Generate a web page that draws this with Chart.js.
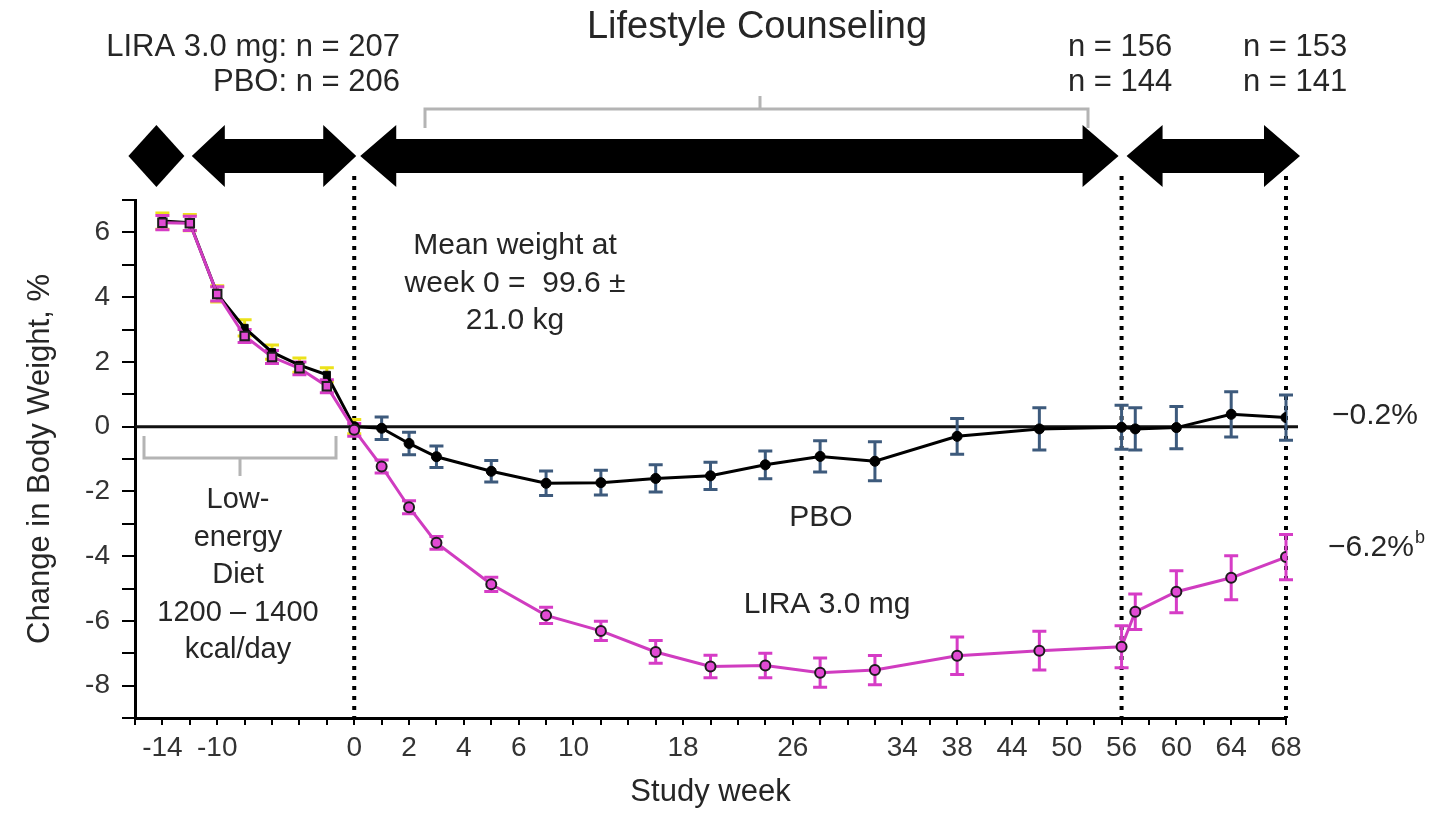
<!DOCTYPE html>
<html>
<head>
<meta charset="utf-8">
<title>Change in Body Weight</title>
<script src="https://cdn.jsdelivr.net/npm/chart.js@4.4.1/dist/chart.umd.min.js"></script>
<style>
  html, body { margin: 0; padding: 0; background: #fff; }
  #wrap { width: 1448px; height: 813px; }
</style>
</head>
<body>
<div id="wrap"><canvas id="weightChart" width="1448" height="813"></canvas></div>
<script>
// --- DATA ---
const WEEKS = [-14, -12, -10, -8, -6, -4, -2, 0, 1, 2, 3, 5, 8, 12, 16, 20, 24, 28, 32, 38, 47, 56, 57, 60, 64, 68];
const LIRA_CHANGE = [6.3, 6.28, 4.1, 2.8, 2.15, 1.8, 1.25, -0.1, -1.23, -2.49, -3.59, -4.87, -5.83, -6.31, -6.96, -7.41, -7.38, -7.6, -7.52, -7.08, -6.92, -6.8, -5.72, -5.1, -4.67, -4.03];
const LIRA_SE = [0.22, 0.22, 0.22, 0.2, 0.2, 0.2, 0.2, 0.2, 0.2, 0.2, 0.2, 0.22, 0.25, 0.3, 0.35, 0.35, 0.38, 0.45, 0.45, 0.58, 0.6, 0.65, 0.55, 0.65, 0.68, 0.7];
const PBO_CHANGE = [6.35, 6.3, 4.1, 3.05, 2.3, 1.9, 1.6, 0.0, -0.05, -0.52, -0.93, -1.38, -1.75, -1.73, -1.6, -1.52, -1.18, -0.92, -1.07, -0.3, -0.07, -0.02, -0.07, -0.03, 0.38, 0.28];
const PBO_SE = [0.25, 0.25, 0.25, 0.25, 0.22, 0.22, 0.22, 0.22, 0.35, 0.35, 0.33, 0.33, 0.38, 0.38, 0.42, 0.42, 0.43, 0.48, 0.6, 0.55, 0.65, 0.68, 0.65, 0.65, 0.7, 0.7];

const X_TICK_WEEKS = [-14, -10, 0, 2, 4, 6, 10, 18, 26, 34, 38, 44, 50, 56, 60, 64, 68];
// the study-week axis is drawn in segments of different weeks per tick slot
const AXIS_BREAK_WEEKS = [-16, 0, 6, 38, 56, 68];
const AXIS_BREAK_SLOTS = [0, 8, 14, 30, 36, 42];
const PHASE_WEEKS = [0, 56, 68];

const FONT = "'Liberation Sans', Arial, sans-serif";
const TEXT = '#262626';

function slotOf(week) {
    for (let i = 1; i < AXIS_BREAK_WEEKS.length; i++) {
        if (week <= AXIS_BREAK_WEEKS[i]) {
            const w0 = AXIS_BREAK_WEEKS[i - 1], w1 = AXIS_BREAK_WEEKS[i];
            const s0 = AXIS_BREAK_SLOTS[i - 1], s1 = AXIS_BREAK_SLOTS[i];
            return s0 + (week - w0) * (s1 - s0) / (w1 - w0);
        }
    }
    return AXIS_BREAK_SLOTS[AXIS_BREAK_SLOTS.length - 1];
}

const toPoints = (values) => WEEKS.map((w, i) => ({ x: slotOf(w), y: values[i] }));

// --- PLUGINS ---
const errorBars = {
    id: 'errorBars',
    beforeDatasetsDraw(chart) {
        const { ctx, scales: { x, y }, chartArea } = chart;
        ctx.save();

        // zero line
        ctx.strokeStyle = '#111';
        ctx.lineWidth = 3;
        ctx.beginPath();
        ctx.moveTo(chartArea.left, y.getPixelForValue(0));
        ctx.lineTo(x.getPixelForValue(slotOf(68)) + 12, y.getPixelForValue(0));
        ctx.stroke();

        // dotted phase lines
        ctx.strokeStyle = '#000';
        ctx.lineWidth = 4;
        ctx.setLineDash([4, 6]);
        PHASE_WEEKS.forEach(w => {
            const px = x.getPixelForValue(slotOf(w));
            ctx.beginPath();
            ctx.moveTo(px, 176);
            ctx.lineTo(px, chartArea.bottom);
            ctx.stroke();
        });
        ctx.setLineDash([]);

        const sets = [
            { values: PBO_CHANGE, se: PBO_SE, color: w => w <= 0 ? '#ece21a' : '#3d5a7c' },
            { values: LIRA_CHANGE, se: LIRA_SE, color: () => '#d63cc6' }
        ];
        ctx.lineWidth = 3;
        sets.forEach(s => {
            WEEKS.forEach((w, i) => {
                const px = x.getPixelForValue(slotOf(w));
                const top = y.getPixelForValue(s.values[i] + s.se[i]);
                const bot = y.getPixelForValue(s.values[i] - s.se[i]);
                ctx.strokeStyle = s.color(w);
                ctx.beginPath();
                ctx.moveTo(px, top); ctx.lineTo(px, bot);
                ctx.moveTo(px - 7, top); ctx.lineTo(px + 7, top);
                ctx.moveTo(px - 7, bot); ctx.lineTo(px + 7, bot);
                ctx.stroke();
            });
        });
        ctx.restore();
    }
};

function doubleArrow(ctx, x1, x2, yc, head, headHalf, shaftHalf) {
    ctx.beginPath();
    ctx.moveTo(x1, yc);
    ctx.lineTo(x1 + head, yc - headHalf);
    ctx.lineTo(x1 + head, yc - shaftHalf);
    ctx.lineTo(x2 - head, yc - shaftHalf);
    ctx.lineTo(x2 - head, yc - headHalf);
    ctx.lineTo(x2, yc);
    ctx.lineTo(x2 - head, yc + headHalf);
    ctx.lineTo(x2 - head, yc + shaftHalf);
    ctx.lineTo(x1 + head, yc + shaftHalf);
    ctx.lineTo(x1 + head, yc + headHalf);
    ctx.closePath();
    ctx.fill();
}

const annotations = {
    id: 'annotations',
    afterDraw(chart) {
        const { ctx, scales: { x } } = chart;
        const px = w => x.getPixelForValue(slotOf(w));
        ctx.save();

        // study phase arrows
        ctx.fillStyle = '#000';
        const yc = 156;
        const dc = px(-14) - 6;
        ctx.beginPath();
        ctx.moveTo(dc - 28, yc); ctx.lineTo(dc, yc - 31); ctx.lineTo(dc + 28, yc); ctx.lineTo(dc, yc + 31);
        ctx.closePath();
        ctx.fill();
        doubleArrow(ctx, px(-12) + 2, px(0) + 2, yc, 33, 31, 17);
        doubleArrow(ctx, px(0) + 6, px(56) - 3, yc, 36, 31, 17);
        doubleArrow(ctx, px(56) + 5, px(68) + 14, yc, 36, 31, 17);

        // gray brackets
        ctx.strokeStyle = '#b4b4b4';
        ctx.lineWidth = 3;
        ctx.beginPath();
        ctx.moveTo(425, 128); ctx.lineTo(425, 109); ctx.lineTo(1088, 109); ctx.lineTo(1088, 128);
        ctx.moveTo(760, 109); ctx.lineTo(760, 96);
        ctx.moveTo(144, 436); ctx.lineTo(144, 458); ctx.lineTo(336, 458); ctx.lineTo(336, 436);
        ctx.moveTo(240, 458); ctx.lineTo(240, 476);
        ctx.stroke();

        // texts
        ctx.fillStyle = TEXT;
        ctx.textBaseline = 'middle';
        const put = (txt, tx, ty, align, size) => {
            ctx.font = `${size}px ${FONT}`;
            ctx.textAlign = align;
            ctx.fillText(txt, tx, ty);
        };
        put('Lifestyle Counseling', 757, 28, 'center', 38);
        put('LIRA 3.0 mg: n = 207', 400, 47, 'right', 31);
        put('PBO: n = 206', 400, 82, 'right', 31);
        put('n = 156', 1068, 47, 'left', 31);
        put('n = 144', 1068, 82, 'left', 31);
        put('n = 153', 1243, 47, 'left', 31);
        put('n = 141', 1243, 82, 'left', 31);

        ['Mean weight at', 'week 0 =  99.6 \u00b1', '21.0 kg'].forEach((t, i) => put(t, 515, 246 + i * 37.5, 'center', 30));
        ['Low-', 'energy', 'Diet', '1200 \u2013 1400', 'kcal/day'].forEach((t, i) => put(t, 238, 500 + i * 37.5, 'center', 29));

        put('PBO', 821, 518, 'center', 30);
        put('LIRA 3.0 mg', 827, 605, 'center', 30);

        put('\u22120.2%', 1332, 416, 'left', 30);
        put('\u22126.2%', 1328, 548, 'left', 30);
        ctx.font = `${30}px ${FONT}`;
        const w62 = ctx.measureText('\u22126.2%').width;
        put('b', 1328 + w62 + 1, 538, 'left', 18);

        ctx.restore();
    }
};

// --- CHART ---
const ctx = document.getElementById('weightChart').getContext('2d');
new Chart(ctx, {
    type: 'line',
    data: {
        datasets: [
            {
                label: 'LIRA 3.0 mg',
                data: toPoints(LIRA_CHANGE),
                borderColor: '#d03cc0',
                borderWidth: 3,
                tension: 0,
                pointStyle: c => WEEKS[c.dataIndex] < 0 ? 'rect' : 'circle',
                pointRadius: c => WEEKS[c.dataIndex] < 0 ? 6 : 5,
                pointBackgroundColor: '#e24ad4',
                pointBorderColor: '#1c1c1c',
                pointBorderWidth: 2
            },
            {
                label: 'PBO',
                data: toPoints(PBO_CHANGE),
                borderColor: '#000',
                borderWidth: 3,
                tension: 0,
                pointStyle: c => WEEKS[c.dataIndex] < 0 ? 'rect' : 'circle',
                pointRadius: 5,
                pointBackgroundColor: '#000',
                pointBorderColor: '#000',
                pointBorderWidth: 1
            }
        ]
    },
    options: {
        responsive: false,
        animation: false,
        devicePixelRatio: 1,
        layout: { padding: { top: 200, right: 162, left: 0, bottom: 0 } },
        plugins: { legend: { display: false }, tooltip: { enabled: false } },
        scales: {
            x: {
                type: 'linear',
                min: 0,
                max: 42,
                afterBuildTicks: (scale) => {
                    scale.ticks = Array.from({ length: 43 }, (_, i) => ({ value: i }));
                },
                afterFit: (scale) => { scale.height = 95; },
                ticks: {
                    autoSkip: false,
                    maxRotation: 0,
                    padding: 6,
                    color: '#333',
                    font: { family: FONT, size: 28 },
                    callback: (value) => {
                        const w = X_TICK_WEEKS.find(wk => Math.abs(slotOf(wk) - value) < 1e-6);
                        return w === undefined ? '' : String(w);
                    }
                },
                grid: { drawOnChartArea: false, tickLength: 7, color: '#000', lineWidth: 2 },
                border: { color: '#000', width: 3 },
                title: {
                    display: true,
                    text: 'Study week',
                    color: TEXT,
                    font: { family: FONT, size: 31 },
                    padding: { top: 0, bottom: 2 }
                }
            },
            y: {
                min: -9,
                max: 7,
                afterFit: (scale) => { scale.width = 135; },
                ticks: {
                    autoSkip: false,
                    stepSize: 1,
                    padding: 12,
                    color: '#333',
                    font: { family: FONT, size: 28 },
                    callback: (v) => v % 2 === 0 ? String(v) : ''
                },
                grid: { drawOnChartArea: false, tickLength: 13, color: '#000', lineWidth: 2 },
                border: { color: '#000', width: 3 },
                title: {
                    display: true,
                    text: 'Change in Body Weight, %',
                    color: TEXT,
                    font: { family: FONT, size: 31 },
                    padding: { top: 22, bottom: 0 }
                }
            }
        }
    },
    plugins: [errorBars, annotations]
});
</script>
</body>
</html>
